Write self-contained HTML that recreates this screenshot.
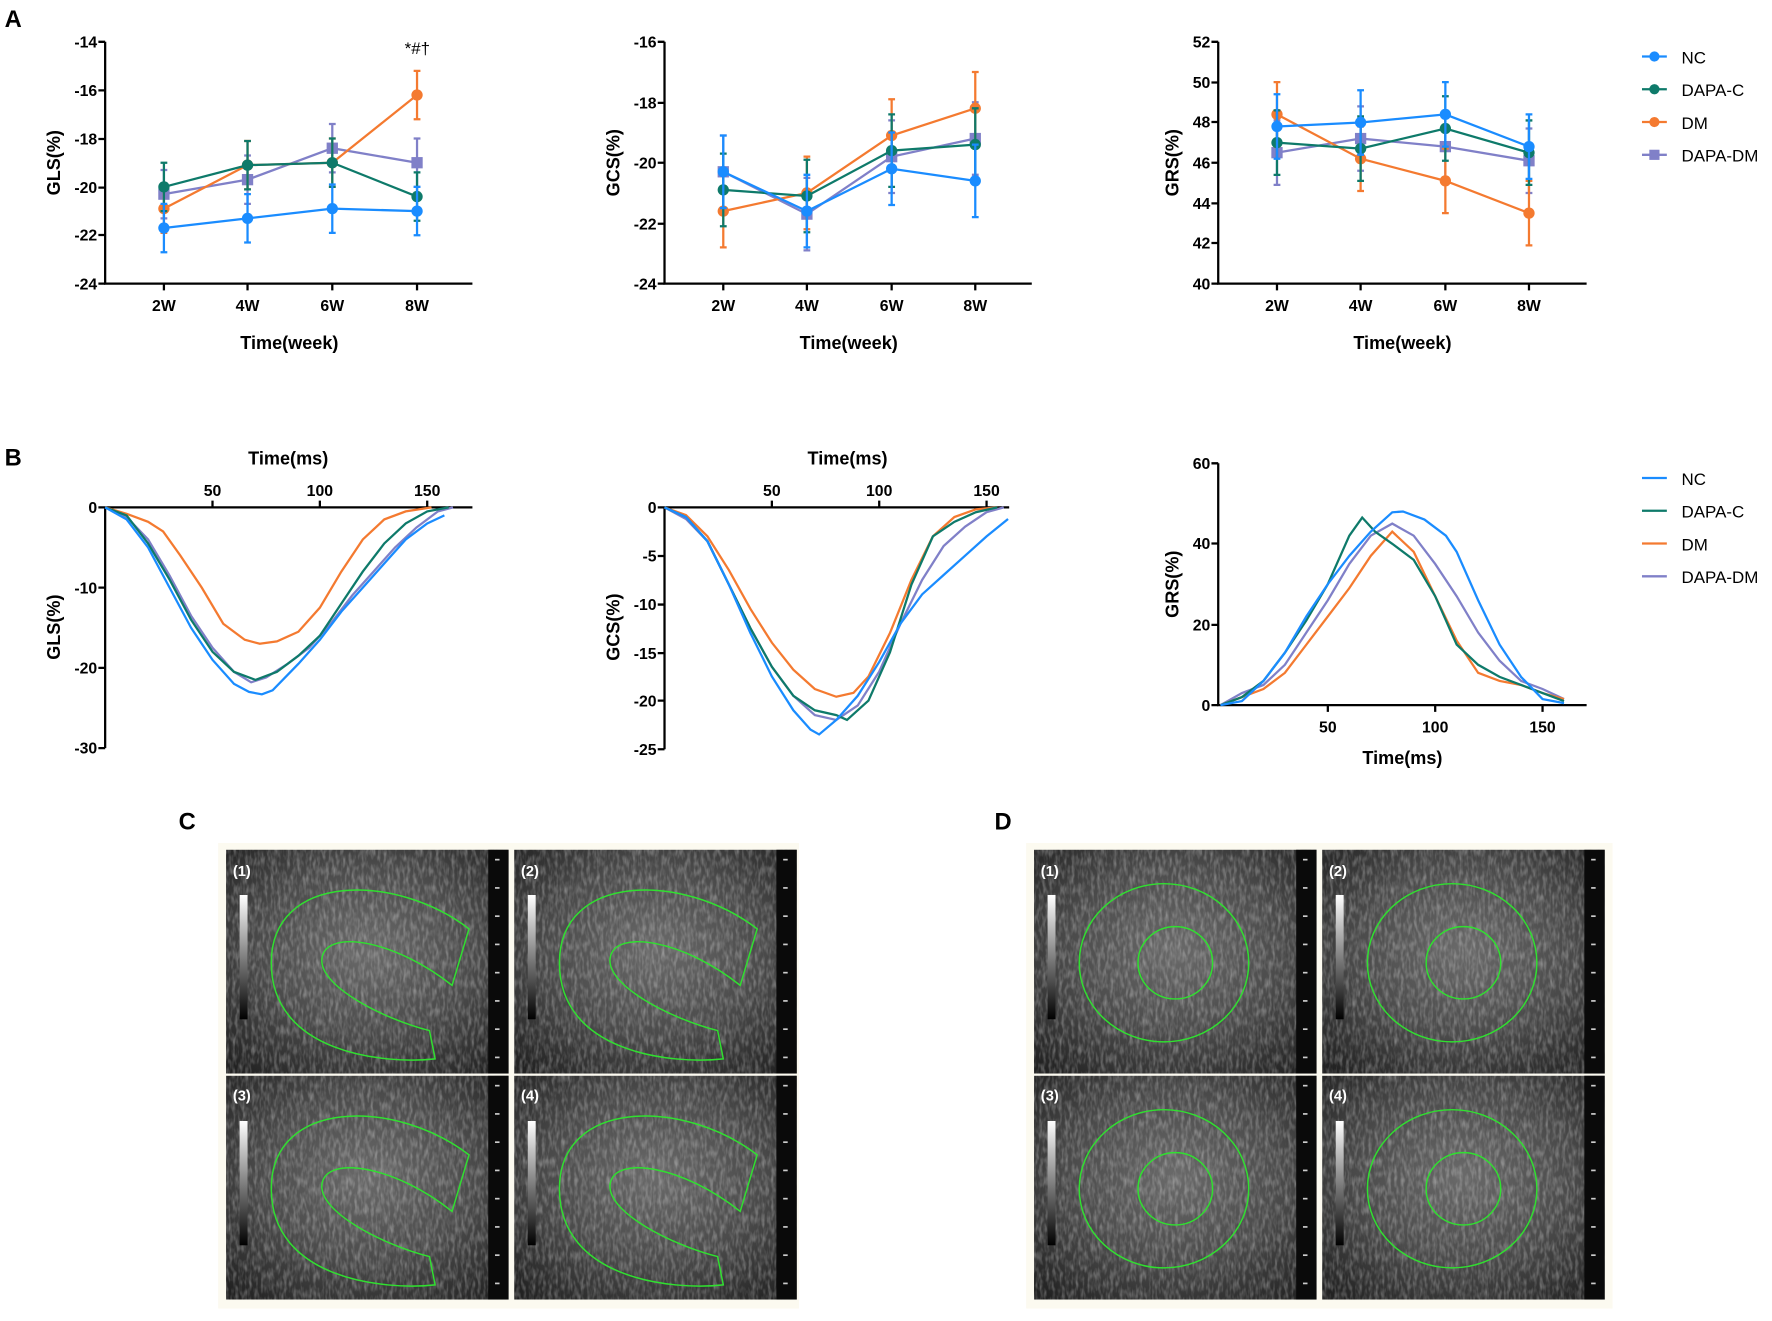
<!DOCTYPE html>
<html><head><meta charset="utf-8"><style>
html,body{margin:0;padding:0;background:#fff}
svg{display:block}
text{font-family:"Liberation Sans",Arial,sans-serif;fill:#000}
.t{font-size:14px;font-weight:bold}
.lab{font-size:16px;font-weight:bold}
.big{font-size:21px;font-weight:bold}
.lg{font-size:15px}
.ax{stroke:#000;stroke-width:2;fill:none}
</style></head><body>
<svg id="s" width="1772" height="1321" viewBox="0 0 1568 1169" xmlns="http://www.w3.org/2000/svg">
<defs>
<radialGradient id="us" cx="50%" cy="45%" r="70%">
<stop offset="0" stop-color="#6a6a6a"/><stop offset="0.55" stop-color="#4a4a4a"/><stop offset="1" stop-color="#222"/>
</radialGradient>
<linearGradient id="bar" x1="0" y1="0" x2="0" y2="1"><stop offset="0" stop-color="#fff"/><stop offset="1" stop-color="#000"/></linearGradient>
<filter id="noise" x="0" y="0" width="100%" height="100%">
<feTurbulence type="fractalNoise" baseFrequency="0.35 0.12" numOctaves="2" seed="3"/>
<feColorMatrix type="matrix" values="0 0 0 0 1  0 0 0 0 1  0 0 0 0 1  1.4 0 0 0 -0.55"/>
</filter>
</defs>
<text class="big" x="4" y="24">A</text>
<text class="big" x="4" y="412">B</text>
<text class="big" x="158" y="734">C</text>
<text class="big" x="880" y="734">D</text>

<!-- A1 -->
<path class="ax" d="M93,37 V251 H418"/>
<g class="t" text-anchor="end">
<text x="86" y="42">-14</text><text x="86" y="85">-16</text><text x="86" y="128">-18</text><text x="86" y="171">-20</text><text x="86" y="213">-22</text><text x="86" y="256">-24</text></g>
<path class="ax" d="M87,37H93M87,80H93M87,123H93M87,166H93M87,208H93M87,251H93M145,251v6M219,251v6M294,251v6M369,251v6"/>
<g class="t" text-anchor="middle"><text x="145" y="275">2W</text><text x="219" y="275">4W</text><text x="294" y="275">6W</text><text x="369" y="275">8W</text></g>
<text class="lab" x="256" y="309" text-anchor="middle">Time(week)</text>
<text class="lab" transform="translate(53,144) rotate(-90)" text-anchor="middle">GLS(%)</text>
<text x="358" y="48" style="font-size:15px">*#†</text>

<!-- A2 -->
<path class="ax" d="M588,37 V251 H913"/>
<g class="t" text-anchor="end">
<text x="581" y="42">-16</text><text x="581" y="96">-18</text><text x="581" y="149">-20</text><text x="581" y="203">-22</text><text x="581" y="256">-24</text></g>
<path class="ax" d="M582,37H588M582,91H588M582,144H588M582,198H588M582,251H588M640,251v6M714,251v6M789,251v6M863,251v6"/>
<g class="t" text-anchor="middle"><text x="640" y="275">2W</text><text x="714" y="275">4W</text><text x="789" y="275">6W</text><text x="863" y="275">8W</text></g>
<text class="lab" x="751" y="309" text-anchor="middle">Time(week)</text>
<text class="lab" transform="translate(548,144) rotate(-90)" text-anchor="middle">GCS(%)</text>

<!-- A3 -->
<path class="ax" d="M1078,37 V251 H1404"/>
<g class="t" text-anchor="end">
<text x="1071" y="42">52</text><text x="1071" y="78">50</text><text x="1071" y="113">48</text><text x="1071" y="149">46</text><text x="1071" y="185">44</text><text x="1071" y="220">42</text><text x="1071" y="256">40</text></g>
<path class="ax" d="M1072,37H1078M1072,73H1078M1072,108H1078M1072,144H1078M1072,180H1078M1072,215H1078M1072,251H1078M1130,251v6M1204,251v6M1279,251v6M1353,251v6"/>
<g class="t" text-anchor="middle"><text x="1130" y="275">2W</text><text x="1204" y="275">4W</text><text x="1279" y="275">6W</text><text x="1353" y="275">8W</text></g>
<text class="lab" x="1241" y="309" text-anchor="middle">Time(week)</text>
<text class="lab" transform="translate(1043,144) rotate(-90)" text-anchor="middle">GRS(%)</text>

<!-- legend A -->
<g stroke-width="2">
<line x1="1453" y1="50" x2="1475" y2="50" stroke="#1a8cff"/><circle cx="1464" cy="50" r="4.5" fill="#1a8cff"/>
<line x1="1453" y1="79" x2="1475" y2="79" stroke="#0e7a6a"/><circle cx="1464" cy="79" r="4.5" fill="#0e7a6a"/>
<line x1="1453" y1="108" x2="1475" y2="108" stroke="#f47a30"/><circle cx="1464" cy="108" r="4.5" fill="#f47a30"/>
<line x1="1453" y1="137" x2="1475" y2="137" stroke="#8080c8"/><rect x="1459.5" y="132.5" width="9" height="9" fill="#8080c8"/>
</g>
<g class="lg"><text x="1488" y="56">NC</text><text x="1488" y="85">DAPA-C</text><text x="1488" y="114">DM</text><text x="1488" y="143">DAPA-DM</text></g>

<!-- B1 -->
<path class="ax" d="M93,449 V662 M93,449 H418"/>
<g class="t" text-anchor="end"><text x="86" y="454">0</text><text x="86" y="525">-10</text><text x="86" y="596">-20</text><text x="86" y="667">-30</text></g>
<path class="ax" d="M87,449H93M87,520H93M87,591H93M87,662H93M188,449v-6M283,449v-6M378,449v-6"/>
<g class="t" text-anchor="middle"><text x="188" y="439">50</text><text x="283" y="439">100</text><text x="378" y="439">150</text></g>
<text class="lab" x="255" y="411" text-anchor="middle">Time(ms)</text>
<text class="lab" transform="translate(53,555) rotate(-90)" text-anchor="middle">GLS(%)</text>

<!-- B2 -->
<path class="ax" d="M588,449 V663 M588,449 H893"/>
<g class="t" text-anchor="end"><text x="581" y="454">0</text><text x="581" y="497">-5</text><text x="581" y="540">-10</text><text x="581" y="583">-15</text><text x="581" y="625">-20</text><text x="581" y="668">-25</text></g>
<path class="ax" d="M582,449H588M582,492H588M582,535H588M582,578H588M582,620H588M582,663H588M683,449v-6M778,449v-6M873,449v-6"/>
<g class="t" text-anchor="middle"><text x="683" y="439">50</text><text x="778" y="439">100</text><text x="873" y="439">150</text></g>
<text class="lab" x="750" y="411" text-anchor="middle">Time(ms)</text>
<text class="lab" transform="translate(548,555) rotate(-90)" text-anchor="middle">GCS(%)</text>

<!-- B3 -->
<path class="ax" d="M1078,410 V624 H1404"/>
<g class="t" text-anchor="end"><text x="1071" y="415">60</text><text x="1071" y="486">40</text><text x="1071" y="558">20</text><text x="1071" y="629">0</text></g>
<path class="ax" d="M1072,410H1078M1072,481H1078M1072,553H1078M1072,624H1078M1175,624v6M1270,624v6M1365,624v6"/>
<g class="t" text-anchor="middle"><text x="1175" y="648">50</text><text x="1270" y="648">100</text><text x="1365" y="648">150</text></g>
<text class="lab" x="1241" y="676" text-anchor="middle">Time(ms)</text>
<text class="lab" transform="translate(1043,517) rotate(-90)" text-anchor="middle">GRS(%)</text>

<g stroke-width="2">
<line x1="1453" y1="423" x2="1475" y2="423" stroke="#1a8cff"/>
<line x1="1453" y1="452" x2="1475" y2="452" stroke="#0e7a6a"/>
<line x1="1453" y1="481" x2="1475" y2="481" stroke="#f47a30"/>
<line x1="1453" y1="510" x2="1475" y2="510" stroke="#8080c8"/>
</g>
<g class="lg"><text x="1488" y="429">NC</text><text x="1488" y="458">DAPA-C</text><text x="1488" y="487">DM</text><text x="1488" y="516">DAPA-DM</text></g>

<!-- images -->
<rect x="193" y="746" width="514" height="412" fill="#fcfaf0"/>
<rect x="908" y="746" width="519" height="412" fill="#fcfaf0"/>
<g id="imgs"></g>
<g font-family="Liberation Serif,serif" font-size="13" font-weight="bold">
<text x="206" y="775" style="fill:#fff">(1)</text><text x="461" y="775" style="fill:#fff">(2)</text>
<text x="206" y="974" style="fill:#fff">(3)</text><text x="461" y="974" style="fill:#fff">(4)</text>
<text x="921" y="775" style="fill:#fff">(1)</text><text x="1176" y="775" style="fill:#fff">(2)</text>
<text x="921" y="974" style="fill:#fff">(3)</text><text x="1176" y="974" style="fill:#fff">(4)</text>
</g>
<g id="data"></g>
</svg>
<script>
var NS="http://www.w3.org/2000/svg";
function el(p,t,a){var e=document.createElementNS(NS,t);for(var k in a)e.setAttribute(k,a[k]);p.appendChild(e);return e;}
var D=document.getElementById("data"),I=document.getElementById("imgs");
var C={NC:"#1a8cff",DC:"#0e7a6a",DM:"#f47a30",DD:"#8080c8"};
function aplot(xs,fy,data,err){
 ["DD","DM","DC","NC"].forEach(function(k){
  var v=data[k],pts=v.map(function(a,i){return xs[i]+","+fy(a)}).join(" ");
  el(D,"polyline",{points:pts,fill:"none",stroke:C[k],"stroke-width":2});
  v.forEach(function(a,i){var y1=fy(a-err),y2=fy(a+err);
   el(D,"path",{d:"M"+xs[i]+","+y1+"V"+y2+"M"+(xs[i]-3)+","+y1+"h6M"+(xs[i]-3)+","+y2+"h6",stroke:C[k],"stroke-width":2});
   if(k=="DD")el(D,"rect",{x:xs[i]-5,y:fy(a)-5,width:10,height:10,fill:C[k]});
   else el(D,"circle",{cx:xs[i],cy:fy(a),r:5,fill:C[k]});});
 });}
aplot([145,219,294,369],function(v){return 37+(-14-v)*21.4},
 {NC:[-21.7,-21.3,-20.9,-21.0],DC:[-20.0,-19.1,-19.0,-20.4],DM:[-20.9,-19.1,-19.0,-16.2],DD:[-20.3,-19.7,-18.4,-19.0]},1.0);
aplot([640,714,789,863],function(v){return 37+(-16-v)*26.75},
 {NC:[-20.3,-21.6,-20.2,-20.6],DC:[-20.9,-21.1,-19.6,-19.4],DM:[-21.6,-21.0,-19.1,-18.2],DD:[-20.3,-21.7,-19.8,-19.2]},1.2);
aplot([1130,1204,1279,1353],function(v){return 251-(v-40)*17.83},
 {NC:[47.8,48.0,48.4,46.8],DC:[47.0,46.7,47.7,46.5],DM:[48.4,46.2,45.1,43.5],DD:[46.5,47.2,46.8,46.1]},1.6);
function bplot(x0,y0,sy,data){["DD","DM","DC","NC"].forEach(function(k){
 var pts=data[k].map(function(p){return (x0+p[0]*1.9)+","+(y0-p[1]*sy)}).join(" ");
 el(D,"polyline",{points:pts,fill:"none",stroke:C[k],"stroke-width":2});});}
bplot(93,449,7.1,{
 NC:[[0,0],[10,-1.5],[20,-5],[30,-10],[40,-15],[50,-19],[60,-22],[67,-23],[73,-23.3],[78,-22.8],[90,-19.5],[100,-16.5],[110,-13],[120,-10],[130,-7],[140,-4],[150,-2],[158,-1]],
 DC:[[0,0],[10,-1],[20,-4.5],[30,-9],[40,-14],[50,-18],[60,-20.5],[70,-21.5],[80,-20.5],[90,-18.5],[100,-16],[110,-12],[120,-8],[130,-4.5],[140,-2],[150,-0.5],[160,0]],
 DM:[[0,0],[10,-0.8],[20,-1.8],[27,-3],[35,-6],[45,-10],[55,-14.5],[65,-16.5],[72,-17],[80,-16.7],[90,-15.5],[100,-12.5],[110,-8],[120,-4],[130,-1.5],[140,-0.5],[152,0]],
 DD:[[0,0],[10,-1.2],[20,-4],[30,-8.5],[40,-13.5],[50,-17.5],[60,-20.5],[68,-21.8],[75,-21.2],[85,-19.5],[95,-17.5],[105,-14.5],[115,-11],[125,-8],[135,-5],[145,-2.5],[155,-0.5],[162,0]]});
bplot(588,449,8.55,{
 NC:[[0,0],[10,-1],[20,-3.5],[30,-8],[40,-13],[50,-17.5],[60,-21],[68,-23],[72,-23.5],[80,-22],[90,-19.5],[100,-16],[110,-12],[120,-9],[130,-7],[140,-5],[150,-3],[160,-1.2]],
 DC:[[0,0],[10,-1],[20,-3.5],[30,-8],[40,-12.5],[50,-16.5],[60,-19.5],[70,-21],[80,-21.5],[85,-22],[95,-20],[105,-15],[115,-8],[125,-3],[135,-1.5],[145,-0.5],[155,0]],
 DM:[[0,0],[10,-0.8],[20,-3],[30,-6.5],[40,-10.5],[50,-14],[60,-16.8],[70,-18.8],[80,-19.6],[88,-19.2],[95,-17.5],[105,-13],[115,-7.5],[125,-3],[135,-1],[145,-0.2],[155,0]],
 DD:[[0,0],[10,-1.2],[20,-3.5],[30,-8],[40,-12.5],[50,-16.5],[60,-19.5],[70,-21.5],[80,-22],[90,-20.5],[100,-17],[110,-12],[120,-7.5],[130,-4],[140,-2],[150,-0.5],[158,0]]});
bplot(1080,624,3.57,{
 NC:[[0,0],[10,1],[20,6],[30,13],[40,22],[50,30],[60,37],[70,43],[80,47.8],[85,48],[95,46],[105,42],[110,38],[120,26],[130,15],[140,7],[150,1.5],[160,0.5]],
 DC:[[0,0],[10,2],[20,6],[30,13],[40,21],[50,30],[60,42],[66,46.5],[72,43],[80,40],[90,36],[100,27],[110,15],[120,10],[130,7],[140,5],[150,3],[160,1]],
 DM:[[0,0],[10,2],[20,4],[30,8],[40,15],[50,22],[60,29],[70,37],[80,43],[90,38],[100,27],[110,16],[120,8],[130,6],[140,5],[150,3],[160,1.5]],
 DD:[[0,0],[10,3],[20,5],[30,10],[40,18],[50,26],[60,35],[70,42],[80,45],[90,42],[100,35],[110,27],[120,18],[130,11],[140,6],[150,4],[160,1.5]]});
var boxes=[[200,752],[455,752],[200,952],[455,952],[915,752],[1170,752],[915,952],[1170,952]];
boxes.forEach(function(b,i){
 el(I,"rect",{x:b[0],y:b[1],width:250,height:198,fill:"url(#us)"});
 el(I,"rect",{x:b[0],y:b[1],width:250,height:198,filter:"url(#noise)",opacity:0.45});
 el(I,"rect",{x:b[0]+12,y:b[1]+40,width:7,height:110,fill:"url(#bar)"});
 el(I,"rect",{x:b[0]+232,y:b[1],width:18,height:198,fill:"#0a0a0a"});
 for(var j=0;j<8;j++)el(I,"rect",{x:b[0]+238,y:b[1]+8+j*25,width:4,height:1.5,fill:"#ccc"});
 var g={stroke:"#30e030","stroke-width":1.3,fill:"none"};
 var cx=b[0]+115,cy=b[1]+100;
 if(i<4){
  g.d="M"+(b[0]+215)+","+(b[1]+70)+" C"+(b[0]+150)+","+(b[1]+20)+" "+(b[0]+40)+","+(b[1]+20)+" "+(b[0]+40)+","+(b[1]+100)+" C"+(b[0]+40)+","+(b[1]+180)+" "+(b[0]+140)+","+(b[1]+190)+" "+(b[0]+185)+","+(b[1]+185)+" L"+(b[0]+180)+","+(b[1]+160)+" C"+(b[0]+140)+","+(b[1]+150)+" "+(b[0]+80)+","+(b[1]+120)+" "+(b[0]+85)+","+(b[1]+95)+" C"+(b[0]+90)+","+(b[1]+70)+" "+(b[0]+150)+","+(b[1]+80)+" "+(b[0]+200)+","+(b[1]+120)+" Z";
  el(I,"path",g);
 }else{
  g.cx=cx;g.cy=cy;g.rx=75;g.ry=70;el(I,"ellipse",g);
  el(I,"ellipse",{cx:cx+10,cy:cy,rx:33,ry:32,stroke:"#30e030","stroke-width":1.3,fill:"none"});
 }
});
</script>
</body></html>
